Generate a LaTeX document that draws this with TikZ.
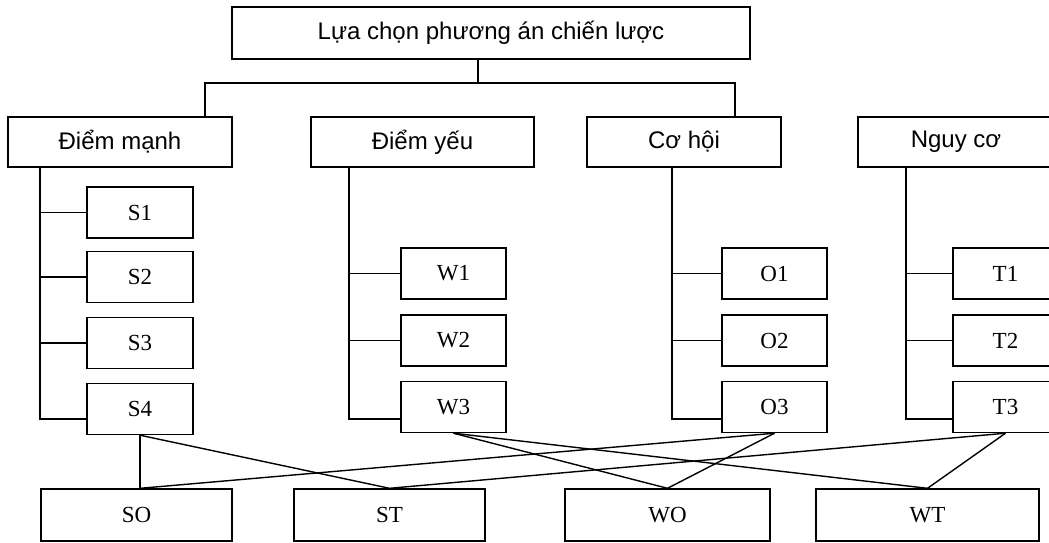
\documentclass[tikz,border=0pt]{standalone}
\usepackage{fontspec}
\setmainfont{Liberation Serif}
\newfontfamily\headfont{Liberation Sans}
\usetikzlibrary{positioning,calc}
\tikzset{
  head/.style={rectangle,draw,line width=1.4pt,inner sep=0pt,
               minimum width=#1,minimum height=50pt,
               font=\headfont\fontsize{24}{28}\selectfont},
  head/.default=224pt,
  item/.style={rectangle,draw,line width=1.4pt,inner sep=0pt,
               minimum width=#1,minimum height=51pt,
               font=\fontsize{23}{27}\selectfont},
  item/.default=105pt,
  link/.style={line width=1.4pt},
}
\begin{document}
\begin{tikzpicture}[x=1pt,y=-1pt]
  \useasboundingbox (0,0) rectangle (1049,542);
  \clip (0,0) rectangle (1049,542);

  % top level
  \node[head=518pt,minimum height=52pt] (top) at (491,33)
    {Lựa chọn phương án chiến lược};

  % second level
  \node[head=224pt] (dm) at (120,142) {Điểm mạnh};
  \node[head=223pt] (dy) at (422.5,142) {Điểm yếu};
  \node[head=194pt] (ch) at (684,142) {Cơ hội};
  \node[head=196pt] (ng) at (956,142) {Nguy cơ};

  % factors
  \node[item=106pt] (S1) at (140,212.5) {S1};
  \node[item=106pt] (S2) at (140,277) {S2};
  \node[item=106pt] (S3) at (140,343) {S3};
  \node[item=106pt] (S4) at (140,409) {S4};

  \node[item] (W1) at (453.5,273.5) {W1};
  \node[item] (W2) at (453.5,340.5) {W2};
  \node[item] (W3) at (453.5,407) {W3};

  \node[item] (O1) at (774.5,273.5) {O1};
  \node[item] (O2) at (774.5,340.5) {O2};
  \node[item] (O3) at (774.5,407) {O3};

  \node[item] (T1) at (1005.5,273.5) {T1};
  \node[item] (T2) at (1005.5,340.5) {T2};
  \node[item] (T3) at (1005.5,407) {T3};

  % strategies
  \node[item=191pt,minimum height=52pt] (SO) at (136.5,515) {SO};
  \node[item=191pt,minimum height=52pt] (ST) at (389.5,515) {ST};
  \node[item=205pt,minimum height=52pt] (WO) at (667.5,515) {WO};
  \node[item=223pt,minimum height=52pt] (WT) at (927.5,515) {WT};

  % tree
  \coordinate (bus) at (478,83);
  \coordinate (busL) at (205,83);
  \coordinate (busR) at (735,83);
  \draw[link] (bus |- top.south) -- (bus);
  \draw[link] (busL |- dm.north) -- (busL) -- (busR) -- (busR |- ch.north);

  \coordinate (colS) at (40,419);
  \coordinate (colW) at (349,419);
  \coordinate (colO) at (672,419);
  \coordinate (colT) at (906,419);
  \draw[link] (colS |- dm.south) -- (colS) -- (colS -| S4.west);
  \draw[link] (colW |- dy.south) -- (colW) -- (colW -| W3.west);
  \draw[link] (colO |- ch.south) -- (colO) -- (colO -| O3.west);
  \draw[link] (colT |- ng.south) -- (colT) -- (colT -| T3.west);

  \foreach \n in {S1,S2,S3}
    \draw[link] (colS |- \n.west) -- (\n.west);
  \foreach \n in {1,2}
  {
    \draw[link] (colW |- W\n.west) -- (W\n.west);
    \draw[link] (colO |- O\n.west) -- (O\n.west);
    \draw[link] (colT |- T\n.west) -- (T\n.west);
  }

  % combinations
  \coordinate (so) at (S4.south |- SO.north);
  \draw[link] (S4.south) -- (so);
  \draw[link] (S4.south) -- (ST.north);
  \draw[link] (W3.south) -- (WO.north);
  \draw[link] (W3.south) -- (WT.north);
  \draw[link] (O3.south) -- (so);
  \draw[link] (O3.south) -- (WO.north);
  \draw[link] (T3.south) -- (ST.north);
  \draw[link] (T3.south) -- (WT.north);
\end{tikzpicture}
\end{document}
